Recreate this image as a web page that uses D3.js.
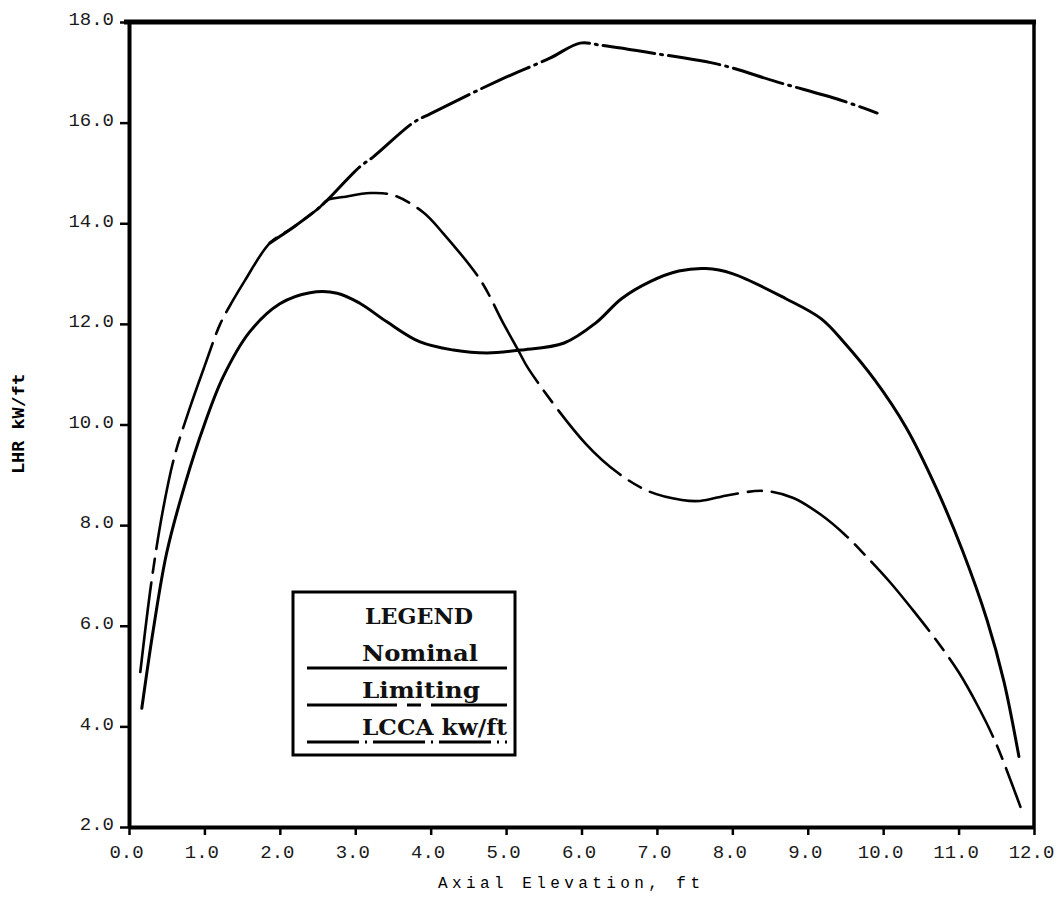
<!DOCTYPE html>
<head>
<meta charset="utf-8">
<title>LHR vs Axial Elevation</title>
<script src="https://d3js.org/d3.v7.min.js"></script>
<style>
body { margin: 0; background: #fff; }
svg { font-family: "Liberation Mono", monospace; }
.tick text { font-family: "Liberation Mono", monospace; font-size: 19px; fill: #1a1a1a; }
.axis .domain { stroke: #000; stroke-width: 4; }
.axis .tick line { stroke: #000; stroke-width: 2.5; }
.curve { fill: none; stroke: #000; stroke-linecap: round; }
.legend-text { font-family: "DejaVu Serif", serif; font-weight: bold; font-size: 22px; fill: #111; }
</style>
</head>
<body>
<div id="chart"></div>
<script>

/* data (elevation ft, kW/ft) */
var xTicks = [0, 1, 2, 3, 4, 5, 6, 7, 8, 9, 10, 11, 12];
var yTicks = [2, 4, 6, 8, 10, 12, 14, 16, 18];

var nominal = [
  [0.17, 4.36], [0.32, 5.9], [0.5, 7.45], [0.75, 8.85], [1.0, 10.0], [1.25, 10.95],
  [1.6, 11.84], [2.0, 12.4], [2.4, 12.62], [2.76, 12.61], [3.06, 12.41], [3.42, 12.04],
  [3.86, 11.64], [4.3, 11.48], [4.75, 11.42], [5.19, 11.48], [5.77, 11.62], [6.19, 12.02],
  [6.53, 12.5], [6.91, 12.84], [7.29, 13.05], [7.65, 13.1], [8.0, 13.0], [8.71, 12.5],
  [9.18, 12.1], [9.5, 11.6], [9.89, 10.88], [10.3, 9.95], [10.7, 8.75], [11.05, 7.5],
  [11.38, 6.1], [11.6, 4.9], [11.8, 3.4]
];

var limiting = [
  [0.15, 5.08], [0.3, 6.9], [0.45, 8.3], [0.6, 9.35], [0.8, 10.3], [1.0, 11.15],
  [1.21, 12.0], [1.38, 12.47], [1.54, 12.87], [1.87, 13.61], [2.18, 13.92], [2.53, 14.32],
  [2.63, 14.46], [2.84, 14.52], [3.2, 14.6], [3.5, 14.56], [3.9, 14.22], [4.16, 13.81],
  [4.66, 12.87], [4.96, 12.02], [5.16, 11.48], [5.3, 11.1], [6.06, 9.61], [6.49, 9.03],
  [6.91, 8.66], [7.33, 8.5], [7.57, 8.48], [7.96, 8.6], [8.42, 8.68], [8.81, 8.54],
  [9.18, 8.2], [9.5, 7.8], [9.75, 7.42], [10.1, 6.85], [10.4, 6.3], [10.7, 5.72],
  [11.0, 5.08], [11.25, 4.42], [11.5, 3.65], [11.82, 2.4]
];

var lcca = [
  [1.87, 13.61], [2.18, 13.92], [2.53, 14.32], [2.63, 14.46], [3.06, 15.12], [3.24, 15.32],
  [3.77, 16.0], [4.0, 16.18], [4.92, 16.85], [5.58, 17.28], [5.98, 17.58], [6.25, 17.54],
  [6.95, 17.38], [7.84, 17.15], [8.59, 16.81], [9.43, 16.45], [9.92, 16.19]
];

var legendTitle = "LEGEND";
var legendNames = ["Nominal", "Limiting", "LCCA kw/ft"];

var width = 1057;
var height = 912;
var dashLimiting = "90,10,14,10";
var dashLcca = "52,6,2,6";

/* Scale */
var xScale = d3.scaleLinear().domain([0, 12]).range([129, 1034]);
var yScale = d3.scaleLinear().domain([2, 18]).range([827, 22]);

var svg = d3.select("#chart").append("svg")
  .attr("width", width)
  .attr("height", height);

/* Axes */
var xAxis = d3.axisBottom(xScale).tickValues(xTicks).tickSize(8).tickSizeOuter(0)
  .tickFormat(d3.format(".1f"));
var yAxis = d3.axisLeft(yScale).tickValues(yTicks).tickSize(9).tickSizeOuter(0)
  .tickFormat(d3.format(".1f"));

svg.append("g")
  .attr("class", "x axis")
  .attr("transform", `translate(0, ${yScale(2)})`)
  .call(xAxis)
  .selectAll("text")
  .attr("dx", "-3")
  .attr("dy", "1.05em");

svg.append("g")
  .attr("class", "y axis")
  .attr("transform", `translate(${xScale(0)}, 0)`)
  .call(yAxis)
  .selectAll("text")
  .attr("x", -15)
  .attr("dy", "0.15em");

/* frame top and right */
svg.append("line")
  .attr("x1", xScale(0) - 5).attr("x2", xScale(12) + 2)
  .attr("y1", yScale(18)).attr("y2", yScale(18))
  .attr("stroke", "#000").attr("stroke-width", 5);

svg.append("line")
  .attr("x1", xScale(12)).attr("x2", xScale(12))
  .attr("y1", yScale(18)).attr("y2", yScale(2))
  .attr("stroke", "#000").attr("stroke-width", 3.5);

/* axis titles */
svg.append("text")
  .attr("x", 569).attr("y", 888)
  .attr("text-anchor", "middle")
  .attr("textLength", 262)
  .style("font-size", "16px")
  .text("Axial Elevation, ft");

svg.append("text")
  .attr("transform", "translate(24, 424) rotate(-90)")
  .attr("text-anchor", "middle")
  .attr("textLength", 100)
  .attr("lengthAdjust", "spacingAndGlyphs")
  .style("font-family", "DejaVu Sans Mono")
  .style("font-weight", "bold")
  .style("font-size", "16px")
  .text("LHR kW/ft");

/* curves */
var line = d3.line()
  .x(d => xScale(d[0]))
  .y(d => yScale(d[1]))
  .curve(d3.curveCatmullRom.alpha(0.5));

svg.append("path")
  .attr("class", "curve")
  .attr("d", line(nominal))
  .attr("stroke-width", 3);

svg.append("path")
  .attr("class", "curve")
  .attr("d", line(limiting))
  .attr("stroke-width", 2.6)
  .attr("stroke-dasharray", dashLimiting);

svg.append("path")
  .attr("class", "curve")
  .attr("d", line(lcca))
  .attr("stroke-width", 3)
  .attr("stroke-dasharray", dashLcca);

/* legend */
var legend = svg.append("g").attr("class", "legend");

legend.append("rect")
  .attr("x", 293).attr("y", 592)
  .attr("width", 222).attr("height", 163)
  .attr("fill", "#fff")
  .attr("stroke", "#000")
  .attr("stroke-width", 3);

legend.append("text")
  .attr("class", "legend-text")
  .attr("x", 419).attr("y", 624)
  .attr("text-anchor", "middle")
  .attr("textLength", 108)
  .attr("lengthAdjust", "spacingAndGlyphs")
  .text(legendTitle);

var legendDash = ["none", dashLimiting, dashLcca];
var legendWidths = [116, 118, 145];

legend.selectAll(".legend-row")
  .data(legendNames).enter()
  .append("text")
  .attr("class", "legend-text")
  .attr("x", 362)
  .attr("y", (d, i) => 661 + i * 37)
  .attr("textLength", (d, i) => legendWidths[i])
  .attr("lengthAdjust", "spacingAndGlyphs")
  .text(d => d);

legend.selectAll(".legend-line")
  .data(legendNames).enter()
  .append("line")
  .attr("x1", 307).attr("x2", 507)
  .attr("y1", (d, i) => 668 + i * 37)
  .attr("y2", (d, i) => 668 + i * 37)
  .attr("stroke", "#000")
  .attr("stroke-width", 3)
  .attr("stroke-dasharray", (d, i) => legendDash[i]);

</script>
</body>
</html>
